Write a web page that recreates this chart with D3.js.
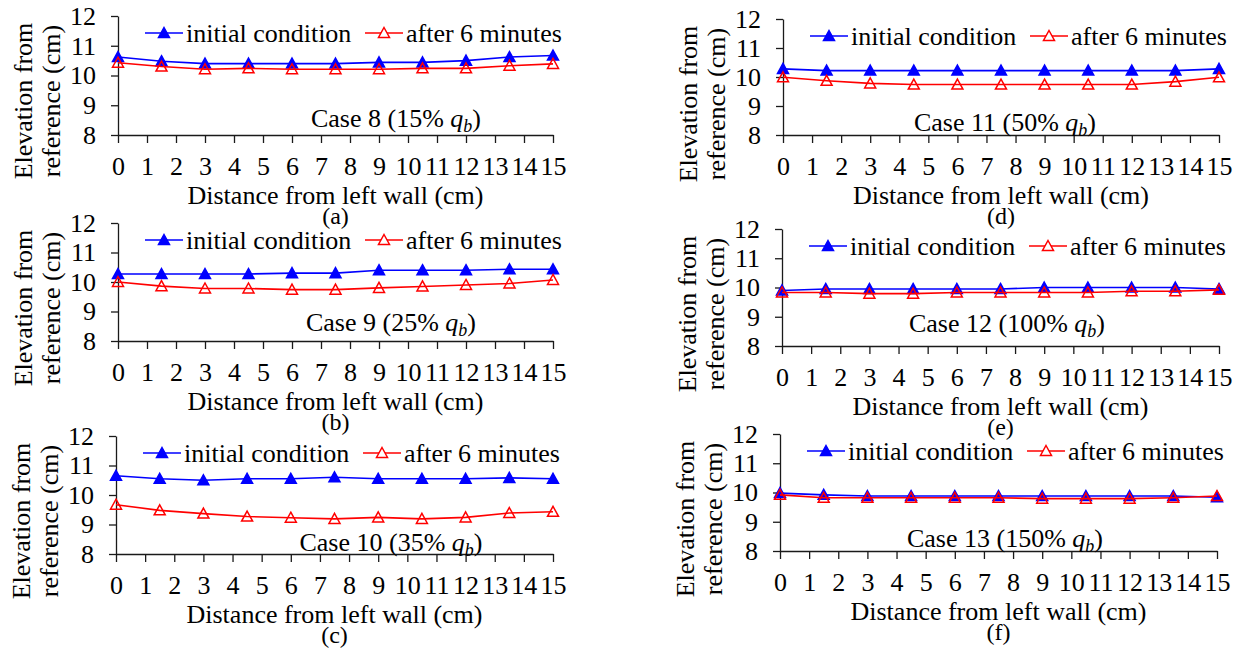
<!DOCTYPE html>
<html>
<head>
<meta charset="utf-8">
<script src="https://cdn.jsdelivr.net/npm/d3@7"></script>
<style>
  body { margin: 0; background: #fff; }
  text { font-family: "Liberation Serif", "DejaVu Serif", serif; fill: #000; }
</style>
</head>
<body>
<div id="chart"></div>
<script>
// x positions of the measured points (cm) and axis ticks
const distances = [0, 1.5, 3, 4.5, 6, 7.5, 9, 10.5, 12, 13.5, 15];
const xTickValues = d3.range(0, 16);
const yTickValues = [8, 9, 10, 11, 12];

// case titles and captions
const caseNumbers = [8, 9, 10, 11, 12, 13];
const casePercents = ["15%", "25%", "35%", "50%", "100%", "150%"];
const captions = ["(a)", "(b)", "(c)", "(d)", "(e)", "(f)"];
const seriesNames = ["initial condition", "after 6 minutes"];

// elevations (cm)
const initial8  = [10.62, 10.48, 10.40, 10.40, 10.40, 10.40, 10.44, 10.44, 10.50, 10.62, 10.67];
const after8    = [10.43, 10.30, 10.21, 10.24, 10.21, 10.21, 10.21, 10.24, 10.24, 10.33, 10.39];
const initial9  = [10.27, 10.27, 10.27, 10.27, 10.30, 10.30, 10.40, 10.40, 10.40, 10.43, 10.43];
const after9    = [10.00, 9.86, 9.78, 9.78, 9.74, 9.74, 9.80, 9.85, 9.90, 9.95, 10.07];
const initial10 = [10.65, 10.55, 10.50, 10.55, 10.55, 10.60, 10.55, 10.55, 10.55, 10.58, 10.55];
const after10   = [9.67, 9.48, 9.37, 9.27, 9.23, 9.19, 9.24, 9.19, 9.24, 9.39, 9.43];
const initial11 = [10.28, 10.22, 10.22, 10.22, 10.22, 10.22, 10.22, 10.22, 10.22, 10.22, 10.28];
const after11   = [9.99, 9.87, 9.78, 9.74, 9.74, 9.74, 9.74, 9.74, 9.74, 9.84, 9.99];
const initial12 = [9.90, 9.95, 9.95, 9.95, 9.95, 9.95, 10.00, 10.00, 10.00, 10.00, 9.95];
const after12   = [9.83, 9.83, 9.79, 9.79, 9.83, 9.83, 9.83, 9.83, 9.87, 9.87, 9.92];
const initial13 = [9.98, 9.92, 9.88, 9.88, 9.88, 9.88, 9.88, 9.88, 9.88, 9.88, 9.84];
const after13   = [9.92, 9.82, 9.82, 9.82, 9.82, 9.82, 9.79, 9.79, 9.79, 9.82, 9.88];

const initialSets = [initial8, initial9, initial10, initial11, initial12, initial13];
const afterSets = [after8, after9, after10, after11, after12, after13];

// where each small plot sits on the page (pixels)
const panels = [
  {x0: 118, x1: 553, yTop: 16,  yBot: 135, labX: 396,  labY: 118},
  {x0: 118, x1: 553, yTop: 223, yBot: 341, labX: 391,  labY: 322},
  {x0: 116, x1: 553, yTop: 436, yBot: 554, labX: 391,  labY: 542},
  {x0: 783, x1: 1219, yTop: 19,  yBot: 135, labX: 1005, labY: 122},
  {x0: 782, x1: 1219, yTop: 229, yBot: 346, labX: 1007, labY: 323},
  {x0: 780, x1: 1217, yTop: 434, yBot: 551, labX: 1005, labY: 538}
];

const blue = "#0000ff", red = "#ff0000";
const fs = 26;
const fontStack = '"Liberation Serif", "DejaVu Serif", serif';

const svg = d3.select("#chart")
  .append("svg")
    .attr("width", 1239)
    .attr("height", 648);

// triangle marker like Excel's
const tri = "M0,-5.5L5.5,4.5L-5.5,4.5Z";

panels.forEach((p, i) => {
  const g = svg.append("g");

  const x = d3.scaleLinear().domain([0, 15]).range([p.x0, p.x1]);
  const y = d3.scaleLinear().domain([8, 12]).range([p.yBot, p.yTop]);

  // axes
  const yAxis = g.append("g")
    .attr("transform", `translate(${p.x0},0)`)
    .call(d3.axisLeft(y).tickValues(yTickValues).tickFormat(d3.format("d"))
      .tickSize(7).tickSizeOuter(0).tickPadding(15));
  const xAxis = g.append("g")
    .attr("transform", `translate(0,${p.yBot})`)
    .call(d3.axisBottom(x).tickValues(xTickValues).tickFormat(d3.format("d"))
      .tickSize(8).tickSizeOuter(0).tickPadding(14));
  [yAxis, xAxis].forEach(ax => {
    ax.attr("font-family", fontStack).attr("font-size", fs);
    ax.selectAll("path, line").attr("stroke", "#1a1a1a").attr("stroke-width", 1.3);
    ax.selectAll("text").attr("fill", "#000");
  });

  // y title, two lines
  const cy = p.yTop + 85;
  ["Elevation from", "reference (cm)"].forEach((t, k) => {
    g.append("text")
      .attr("transform", `translate(${p.x0 - 86 + k * 28},${cy}) rotate(-90)`)
      .attr("text-anchor", "middle")
      .style("font-size", fs + "px")
      .text(t);
  });

  // x title and caption
  const cx = (p.x0 + p.x1) / 2;
  g.append("text")
    .attr("x", cx).attr("y", p.yBot + 60).attr("dy", "0.35em")
    .attr("text-anchor", "middle")
    .style("font-size", fs + "px")
    .text("Distance from left wall (cm)");
  g.append("text")
    .attr("x", cx).attr("y", p.yBot + 81).attr("dy", "0.35em")
    .attr("text-anchor", "middle")
    .style("font-size", "24px")
    .text(captions[i]);

  // case label
  const lab = g.append("text")
    .attr("x", p.labX).attr("y", p.labY).attr("dy", "0.35em")
    .attr("text-anchor", "middle")
    .style("font-size", fs + "px");
  lab.append("tspan").text(`Case ${caseNumbers[i]} (${casePercents[i]} `);
  lab.append("tspan").style("font-style", "italic").text("q");
  lab.append("tspan").style("font-style", "italic").style("font-size", "18px").attr("dy", 5).text("b");
  lab.append("tspan").attr("dy", -5).text(")");

  // series
  const line = d3.line().x((d, j) => x(distances[j])).y(d => y(d));
  const series = [
    {vals: initialSets[i], color: blue, fill: blue},
    {vals: afterSets[i], color: red, fill: "none"}
  ];
  series.forEach(s => {
    g.append("path")
      .datum(s.vals)
      .attr("d", line)
      .attr("fill", "none")
      .attr("stroke", s.color)
      .attr("stroke-width", 1.6);
    g.selectAll(null)
      .data(s.vals)
      .join("path")
        .attr("d", tri)
        .attr("transform", (d, j) => `translate(${x(distances[j])},${y(d)})`)
        .attr("fill", s.fill)
        .attr("stroke", s.color)
        .attr("stroke-width", 1.5);
  });

  // legend
  const ly = p.yTop + 17;
  const legendItems = [
    {name: seriesNames[0], color: blue, fill: blue, lx: p.x0 + 27},
    {name: seriesNames[1], color: red, fill: "#fff", lx: p.x0 + 247}
  ];
  legendItems.forEach(it => {
    g.append("line")
      .attr("x1", it.lx).attr("x2", it.lx + 38)
      .attr("y1", ly).attr("y2", ly)
      .attr("stroke", it.color).attr("stroke-width", 1.6);
    g.append("path")
      .attr("d", tri)
      .attr("transform", `translate(${it.lx + 19},${ly})`)
      .attr("fill", it.fill)
      .attr("stroke", it.color)
      .attr("stroke-width", 1.5);
    g.append("text")
      .attr("x", it.lx + 41).attr("y", ly).attr("dy", "0.35em")
      .style("font-size", fs + "px")
      .text(it.name);
  });
});
</script>
</body>
</html>
